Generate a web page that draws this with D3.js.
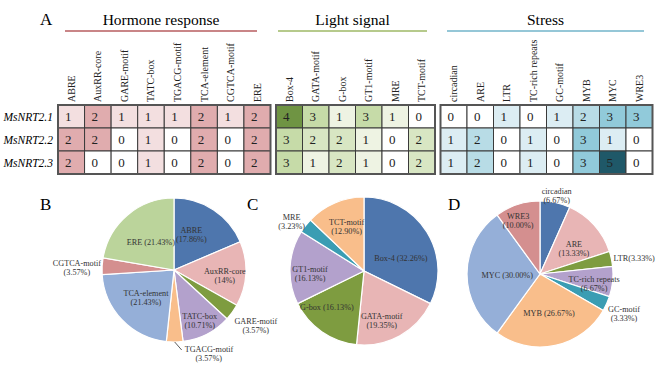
<!DOCTYPE html>
<html><head><meta charset="utf-8">
<script src="https://cdn.jsdelivr.net/npm/d3@7/dist/d3.min.js"></script>
<style>body{margin:0;background:#fff}svg{display:block;font-family:"Liberation Serif","Times New Roman",serif}</style>
</head><body><svg id="c" width="661" height="368"></svg>
<script>
// ---------- DATA ----------
const genes = ["MsNRT2.1", "MsNRT2.2", "MsNRT2.3"];
const hormoneMotifs = ["ABRE","AuxRR-core","GARE-motif","TATC-box","TGACG-motif","TCA-element","CGTCA-motif","ERE"];
const hormoneCounts = [[1,2,1,1,1,2,1,2],[2,2,0,1,0,2,0,2],[2,0,0,1,0,2,0,2]];
const lightMotifs = ["Box-4","GATA-motif","G-box","GT1-motif","MRE","TCT-motif"];
const lightCounts = [[4,3,1,3,1,0],[3,2,2,1,0,2],[3,1,2,1,0,2]];
const stressMotifs = ["circadian","ARE","LTR","TC-rich repeats","GC-motif","MYB","MYC","WRE3"];
const stressCounts = [[0,0,1,0,1,2,3,3],[1,2,0,1,0,3,1,0],[1,2,0,1,0,3,5,0]];
const groupTitles = ["Hormone response","Light signal","Stress"];

const pieBNames = ["ABRE","AuxRR-core","GARE-motif","TATC-box","TGACG-motif","TCA-element","CGTCA-motif","ERE"];
const pieBValues = [17.86,14,3.57,10.71,3.57,21.43,3.57,21.43];
const pieBLabels = ["17.86%","14%","3.57%","10.71%","3.57%","21.43%","3.57%","21.43%"];
const pieCNames = ["Box-4","GATA-motif","G-box","GT1-motif","MRE","TCT-motif"];
const pieCValues = [32.26,19.35,16.13,16.13,3.23,12.90];
const pieCLabels = ["32.26%","19.35%","16.13%","16.13%","3.23%","12.90%"];
const pieDNames = ["circadian","ARE","LTR","TC-rich repeats","GC-motif","MYB","MYC","WRE3"];
const pieDValues = [6.67,13.33,3.33,6.67,3.33,26.67,30.00,10.00];
const pieDLabels = ["6.67%","13.33%","3.33%","6.67%","3.33%","26.67%","30.00%","10.00%"];

// ---------- STYLE / LAYOUT ----------
const C = {blue:"#4e76ad",pink:"#e8b5b5",green:"#7e9c40",purple:"#b3a1cc",orange:"#f9be8b",lblue:"#95afd8",dred:"#d48f8f",lgreen:"#bbd49b",teal:"#3a9db3"};
const svg = d3.select("#c");
const tableTop = 105, rowH = 23;
const blocks = [
  {motifs:hormoneMotifs, counts:hormoneCounts, x0:58, x1:270.5, colors:["#ffffff","#f3dfe0","#e0acae"], dom:[0,1,2], line:"#c98587", lx:[65,257]},
  {motifs:lightMotifs, counts:lightCounts, x0:276, x1:435, colors:["#ffffff","#eef3e3","#d8e6c3","#c6dba8","#6f9443"], dom:[0,1,2,3,4], line:"#b6ca8c", lx:[278,427]},
  {motifs:stressMotifs, counts:stressCounts, x0:440.5, x1:652.5, colors:["#ffffff","#dcedf3","#b8dce6","#91cada","#5f9fb0","#1f5868"], dom:[0,1,2,3,4,5], line:"#95c7d7", lx:[447,644]}
];
const y = d3.scaleBand().domain(genes).range([tableTop, tableTop + rowH*3]);

svg.append("text").attr("x",40).attr("y",25).attr("font-size",17).text("A");

blocks.forEach((b,bi)=>{
  const x = d3.scaleBand().domain(b.motifs).range([b.x0,b.x1]);
  const col = d3.scaleLinear().domain(b.dom).range(b.colors);
  const g = svg.append("g");
  // header
  g.append("text").attr("x",(b.lx[0]+b.lx[1])/2).attr("y",25).attr("text-anchor","middle").attr("font-size",15.5).text(groupTitles[bi]);
  g.append("line").attr("x1",b.lx[0]).attr("x2",b.lx[1]).attr("y1",31).attr("y2",31).attr("stroke",b.line).attr("stroke-width",2);
  // column labels
  g.selectAll(".cl").data(b.motifs).join("text")
    .attr("transform",d=>`translate(${x(d)+x.bandwidth()/2+3.5},${tableTop-3}) rotate(-90)`)
    .attr("font-size",10).attr("fill","#222").text(d=>d);
  // cells
  genes.forEach((gn,ri)=>{
    b.motifs.forEach((m,ci)=>{
      const v = b.counts[ri][ci];
      g.append("rect").attr("x",x(m)).attr("y",y(gn)).attr("width",x.bandwidth()).attr("height",y.bandwidth())
        .attr("fill",col(v)).attr("stroke","#3a3a3a").attr("stroke-width",1);
      g.append("text").attr("x",x(m)+x.bandwidth()/2-3).attr("y",y(gn)+y.bandwidth()/2+4.5)
        .attr("text-anchor","middle").attr("font-size",13).attr("fill","#222").text(v);
    });
  });
  g.append("rect").attr("x",b.x0).attr("y",tableTop).attr("width",b.x1-b.x0).attr("height",rowH*3)
    .attr("fill","none").attr("stroke","#555").attr("stroke-width",2);
});
// row labels
svg.selectAll(".rl").data(genes).join("text").attr("x",53).attr("y",d=>y(d)+y.bandwidth()/2+4)
  .attr("text-anchor","end").attr("font-style","italic").attr("font-size",11.5).text(d=>d);

// ---------- PIES ----------
const pies = [
  {letter:"B", lx:40, cx:174, cy:270, r:72, names:pieBNames, values:pieBValues, labels:pieBLabels,
   colors:[C.blue,C.pink,C.green,C.purple,C.orange,C.lblue,C.dred,C.lgreen],
   lab:[{k:0.56,a:-8,two:1},{k:0.71,a:3,two:1},{k:1.37,a:-2,two:1},{k:0.78,a:0,two:1},{leader:1},{k:0.54,a:0,two:1},{k:1.35,a:-1,two:1},{k:0.5,a:0,two:0}]},
  {letter:"C", lx:247, cx:364, cy:271, r:74, names:pieCNames, values:pieCValues, labels:pieCLabels,
   colors:[C.blue,C.pink,C.green,C.purple,C.teal,C.orange],
   lab:[{k:0.53,a:12,two:0},{k:0.7,a:9,two:1},{k:0.7,a:11,two:0},{k:0.73,a:-5,two:1},{k:1.19,a:-3,two:1},{k:0.65,a:2,two:1}]},
  {letter:"D", lx:448, cx:540, cy:274, r:73, names:pieDNames, values:pieDValues, labels:pieDLabels,
   colors:[C.blue,C.pink,C.green,C.purple,C.teal,C.orange,C.lblue,C.dred],
   lab:[{k:1.1,a:0,two:1},{k:0.59,a:4,two:1},{k:1.03,a:0,two:0,start:1,nosp:1},{k:0.75,a:3,two:1},{k:1.27,a:1,two:1},{k:0.55,a:-1,two:0},{k:0.45,a:-2,two:0},{k:0.8,a:-4,two:1}]}
];
pies.forEach(p=>{
  const data = p.names.map((n,i)=>({name:n, value:p.values[i], label:p.labels[i], color:p.colors[i], lab:p.lab[i]}));
  const arcs = d3.pie().sort(null).value(d=>d.value)(data);
  const arc = d3.arc().innerRadius(0).outerRadius(p.r);
  const g = svg.append("g").attr("transform",`translate(${p.cx},${p.cy})`);
  g.selectAll("path").data(arcs).join("path").attr("d",arc).attr("fill",d=>d.data.color).attr("stroke","#fff").attr("stroke-width",1.2);
  svg.append("text").attr("x",p.lx).attr("y",210).attr("font-size",17).text(p.letter);
  arcs.forEach(a=>{
    const L = a.data.lab;
    const mid = (a.startAngle+a.endAngle)/2;
    if (L.leader){
      const p0=[Math.sin(mid)*p.r, -Math.cos(mid)*p.r];
      const p1=[p0[0]+7,p0[1]+8];
      g.append("polyline").attr("points",[p0,p1].map(q=>q.join(",")).join(" ")).attr("fill","none").attr("stroke","#333").attr("stroke-width",0.8);
      const t = g.append("text").attr("font-size",8.2).attr("fill","#333");
      t.append("tspan").attr("x",p1[0]+3).attr("y",p1[1]+2.5).text(a.data.name);
      t.append("tspan").attr("x",p1[0]+3+24).attr("y",p1[1]+11.5).attr("text-anchor","middle").text("("+a.data.label+")");
      return;
    }
    const ang = mid + L.a*Math.PI/180;
    const px = Math.sin(ang)*p.r*L.k, py = -Math.cos(ang)*p.r*L.k;
    const t = g.append("text").attr("font-size",8.2).attr("fill","#333").attr("text-anchor",L.start?"start":"middle");
    if (L.two){
      t.append("tspan").attr("x",px).attr("y",py-1).text(a.data.name);
      t.append("tspan").attr("x",px).attr("y",py+8).text("("+a.data.label+")");
    } else {
      t.attr("x",px).attr("y",py+3).text(a.data.name+(L.nosp?"":" ")+"("+a.data.label+")");
    }
  });
});
</script></body></html>
